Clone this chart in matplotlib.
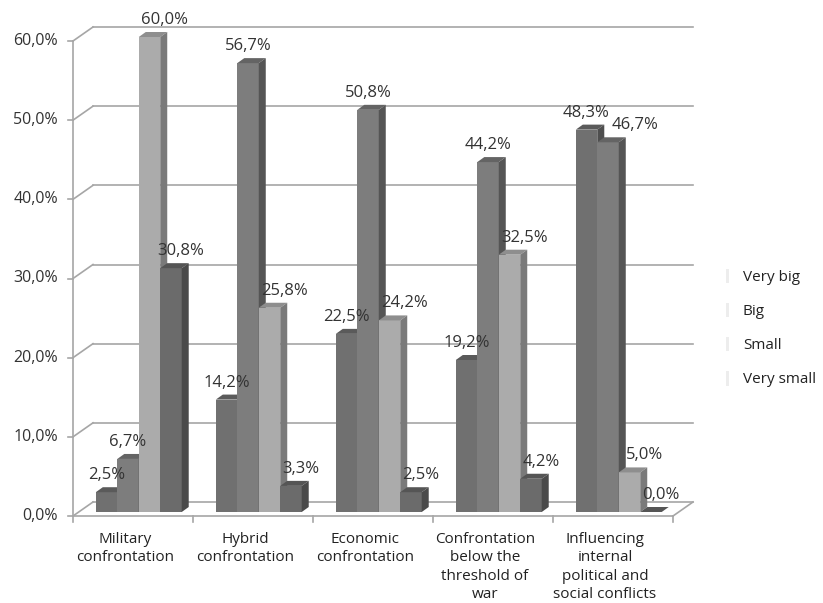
import matplotlib.pyplot as plt
import numpy as np
from matplotlib.patches import Polygon, Rectangle

plt.rcParams['font.family'] = ['Open Sans', 'DejaVu Sans']

categories = ['Military\nconfrontation', 'Hybrid\nconfrontation', 'Economic\nconfrontation',
              'Confrontation\nbelow the\nthreshold of\nwar',
              'Influencing\ninternal\npolitical and\nsocial conflicts']
series = ['Very big', 'Big', 'Small', 'Very small']
very_big = [2.5, 14.2, 22.5, 19.2, 48.3]
big = [6.7, 56.7, 50.8, 44.2, 46.7]
small = [60.0, 25.8, 24.2, 32.5, 5.0]
very_small = [30.8, 3.3, 2.5, 4.2, 0.0]
values = [very_big, big, small, very_small]
yticks = [0, 10, 20, 30, 40, 50, 60]

front = ['#707070', '#7d7d7d', '#ababab', '#6b6b6b']
top = ['#5a5a5a', '#646464', '#8e8e8e', '#555555']
side = ['#4e4e4e', '#555555', '#7a7a7a', '#4a4a4a']
label_nudge = [0, 0, 15, 10]   # px, label shift to the right per series
grid_c = '#a6a6a6'
txt_c = '#333333'

W, H = 823, 603
fig = plt.figure(figsize=(W / 100, H / 100), dpi=100)
# front plane: x 73..673 px, y 0% at 516 px, 60% at 41 px
ax = fig.add_axes([73 / W, (H - 516) / H, 600 / W, 475 / H])
ax.set_xlim(0, 5)
ax.set_ylim(0, 60)
ax.axis('off')

px_x = 5 / 600      # data units per pixel
px_y = 60 / 475
back_dx, back_dy = 20 * px_x, 14 * px_y    # back wall offset
bar_dx, bar_dy = 7 * px_x, 5 * px_y        # bar depth
lift = 4 * px_y                             # bars sit slightly behind front edge

# back wall gridlines with slanted connectors
for v in yticks:
    ax.plot([back_dx, 5 + back_dx], [v + back_dy, v + back_dy], color=grid_c, lw=1.2, clip_on=False)
    ax.plot([0, back_dx], [v, v + back_dy], color=grid_c, lw=1.2, clip_on=False)
    ax.plot([-5 * px_x, 0], [v, v], color=grid_c, lw=1.2, clip_on=False)
    ax.text(-15 * px_x, v, f'{v:.1f}%'.replace('.', ','), ha='right', va='center',
            fontsize=11.5, color=txt_c)
# floor
ax.plot([0, 0], [0, 60], color=grid_c, lw=1.2, clip_on=False)
ax.plot([0, 5], [0, 0], color=grid_c, lw=1.2, clip_on=False)
ax.plot([5, 5 + back_dx], [0, back_dy], color=grid_c, lw=1.2, clip_on=False)
for i in range(6):
    ax.plot([i, i], [0, -6 * px_y], color=grid_c, lw=1.2, clip_on=False)

# bars with a fake 3D depth
bw = 0.179
start = 0.19
x = np.arange(len(categories))
labels = [[None] * len(series) for _ in categories]
for s in range(len(series)):
    left = x + start + s * bw
    vals = np.array(values[s])
    ax.bar(left, vals, width=bw, bottom=lift, align='edge', color=front[s],
           linewidth=0, zorder=3 + s * 0.01, clip_on=False)
    for g, (xl, v) in enumerate(zip(left, vals)):
        ytop = v + lift
        ax.add_patch(Polygon([(xl, ytop), (xl + bw, ytop), (xl + bw + bar_dx, ytop + bar_dy),
                              (xl + bar_dx, ytop + bar_dy)], closed=True, facecolor=top[s],
                             linewidth=0, zorder=3 + s * 0.01, clip_on=False))
        ax.add_patch(Polygon([(xl + bw, lift), (xl + bw + bar_dx, lift + bar_dy),
                              (xl + bw + bar_dx, ytop + bar_dy), (xl + bw, ytop)], closed=True,
                             facecolor=side[s], linewidth=0, zorder=3 + s * 0.01, clip_on=False))
        labels[g][s] = ax.text(xl + bw / 2 + label_nudge[s] * px_x, ytop + 13 * px_y,
                               f'{v:.1f}%'.replace('.', ','), ha='center', va='baseline',
                               fontsize=12, color=txt_c, zorder=10)

# push colliding labels to the right, like the spreadsheet does
fig.canvas.draw()
r = fig.canvas.get_renderer()
for group in labels:
    for a, b in zip(group[:-1], group[1:]):
        ba, bb = a.get_window_extent(r), b.get_window_extent(r)
        if ba.overlaps(bb):
            shift = ba.x1 + 2 - bb.x0
            b.set_x(b.get_position()[0] + shift * px_x)

for i, c in enumerate(categories):
    ax.text(i + 0.5 - 8 * px_x, -16 * px_y, c, ha='center', va='top', fontsize=11,
            color='#222222', linespacing=1.3)

handles = [Rectangle((0, 0), 1, 1, facecolor='#ededed', edgecolor='none') for _ in series]
fig.legend(handles, series, loc='center left', bbox_to_anchor=(726 / W, 1 - 328 / H),
           frameon=False, fontsize=11, handlelength=0.2, handleheight=1.1,
           handletextpad=0.9, labelspacing=1.15, labelcolor='#222222',
           borderaxespad=0, borderpad=0)

fig.savefig('out.png', dpi=100)
